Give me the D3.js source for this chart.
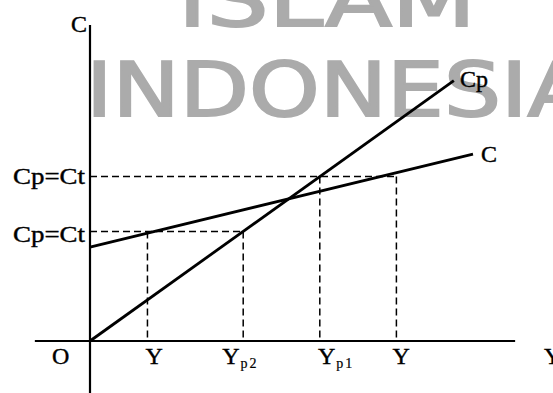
<!DOCTYPE html>
<html>
<head>
<meta charset="utf-8">
<script src="https://cdn.jsdelivr.net/npm/d3@7"></script>
<style>
  body { margin: 0; background: #fff; }
  svg { display: block; }
</style>
</head>
<body>
<svg id="chart"></svg>
<script>
//Data (income Y on x, consumption C on y)
const cpLine = [[0, 0], [9.5, 9.5]]; //Cp = Y, 45 degree line
const cLine = [[0, 3.43], [10, 6.82]]; //C line
const levels = [4, 6]; //Cp=Ct levels on the C axis
const levelLabels = ["Cp=Ct", "Cp=Ct"];
const dropsLow = [1.5, 4]; //Y and Yp2 under the lower level
const dropsHigh = [6, 8]; //Yp1 and Y under the upper level
const tickNames = ["Y", "Y", "Y", "Y"];
const tickSubs = ["", "p2", "p1", ""];
const tickAt = [1.45, 3.45, 5.95, 7.9];

const width = 553,
  height = 393;

var svg = d3.select("#chart").attr("width", width).attr("height", height);

//scales, origin O sits at (90, 341)
var x = d3.scaleLinear().domain([0, 10]).range([90, 473]);
var y = d3.scaleLinear().domain([0, 10]).range([341, 67]);

const serif = "'Liberation Serif', 'Times New Roman', serif";

//watermark behind everything
var wm = svg
  .append("g")
  .attr("fill", "#ababab")
  .attr("stroke", "#ababab")
  .attr("stroke-width", 2)
  .attr("font-family", "'DejaVu Sans', sans-serif");
wm.append("text")
  .attr("x", 178)
  .attr("y", 26)
  .attr("font-size", 74)
  .attr("textLength", 298)
  .attr("lengthAdjust", "spacingAndGlyphs")
  .text("ISLAM");
wm.append("text")
  .attr("x", 86)
  .attr("y", 116)
  .attr("font-size", 74)
  .attr("textLength", 503)
  .attr("lengthAdjust", "spacingAndGlyphs")
  .text("INDONESIA");

//dashed guide lines
var guides = svg
  .append("g")
  .attr("stroke", "#000")
  .attr("stroke-width", 1.5)
  .attr("stroke-dasharray", "7,4")
  .attr("fill", "none");

[dropsLow, dropsHigh].forEach(function (drops, i) {
  var lvl = levels[i];
  guides
    .append("line")
    .attr("x1", x(0))
    .attr("x2", x(d3.max(drops)))
    .attr("y1", y(lvl))
    .attr("y2", y(lvl));
  drops.forEach(function (d) {
    guides
      .append("line")
      .attr("x1", x(d))
      .attr("x2", x(d))
      .attr("y1", y(lvl))
      .attr("y2", y(0));
  });
});

//axes
var axes = svg.append("g").attr("stroke", "#000").attr("stroke-width", 2.2);
axes.append("line").attr("x1", x(-1.44)).attr("x2", x(11.1)).attr("y1", y(0)).attr("y2", y(0));
axes.append("line").attr("x1", x(0)).attr("x2", x(0)).attr("y1", y(11.53)).attr("y2", height);

//Cp and C lines
var line = d3.line().x((d) => x(d[0])).y((d) => y(d[1]));
svg.append("path").datum(cpLine).attr("d", line).attr("stroke", "#000").attr("stroke-width", 2.8).attr("fill", "none");
svg.append("path").datum(cLine).attr("d", line).attr("stroke", "#000").attr("stroke-width", 2.8).attr("fill", "none");

//labels, a thin stroke to get the heavier scanned look
var labels = svg
  .append("g")
  .attr("font-family", serif)
  .attr("font-size", 24)
  .attr("fill", "#000")
  .attr("stroke", "#000")
  .attr("stroke-width", 0.4);

labels.append("text").attr("x", 71).attr("y", 32).text("C");
labels.append("text").attr("x", 460).attr("y", 87).text("Cp");
labels.append("text").attr("x", 481).attr("y", 162).text("C");
labels.append("text").attr("x", 52).attr("y", 364).text("O");
labels.append("text").attr("x", 544).attr("y", 364).text("Y");

//level labels on the C axis
levels.forEach(function (lvl, i) {
  labels
    .append("text")
    .attr("x", 13)
    .attr("y", y(lvl) + (i == 0 ? 10.6 : 7.5))
    .attr("textLength", 72)
    .attr("lengthAdjust", "spacingAndGlyphs")
    .text(levelLabels[i]);
});

//tick labels on the Y axis
tickNames.forEach(function (t, i) {
  var txt = labels.append("text").attr("x", x(tickAt[i])).attr("y", 364).text(t);
  if (tickSubs[i] != "")
    txt
      .append("tspan")
      .attr("font-size", 14)
      .attr("stroke-width", 0.2)
      .attr("dx", 1)
      .attr("dy", 4)
      .attr("letter-spacing", 2)
      .text(tickSubs[i]);
});
</script>
</body>
</html>
